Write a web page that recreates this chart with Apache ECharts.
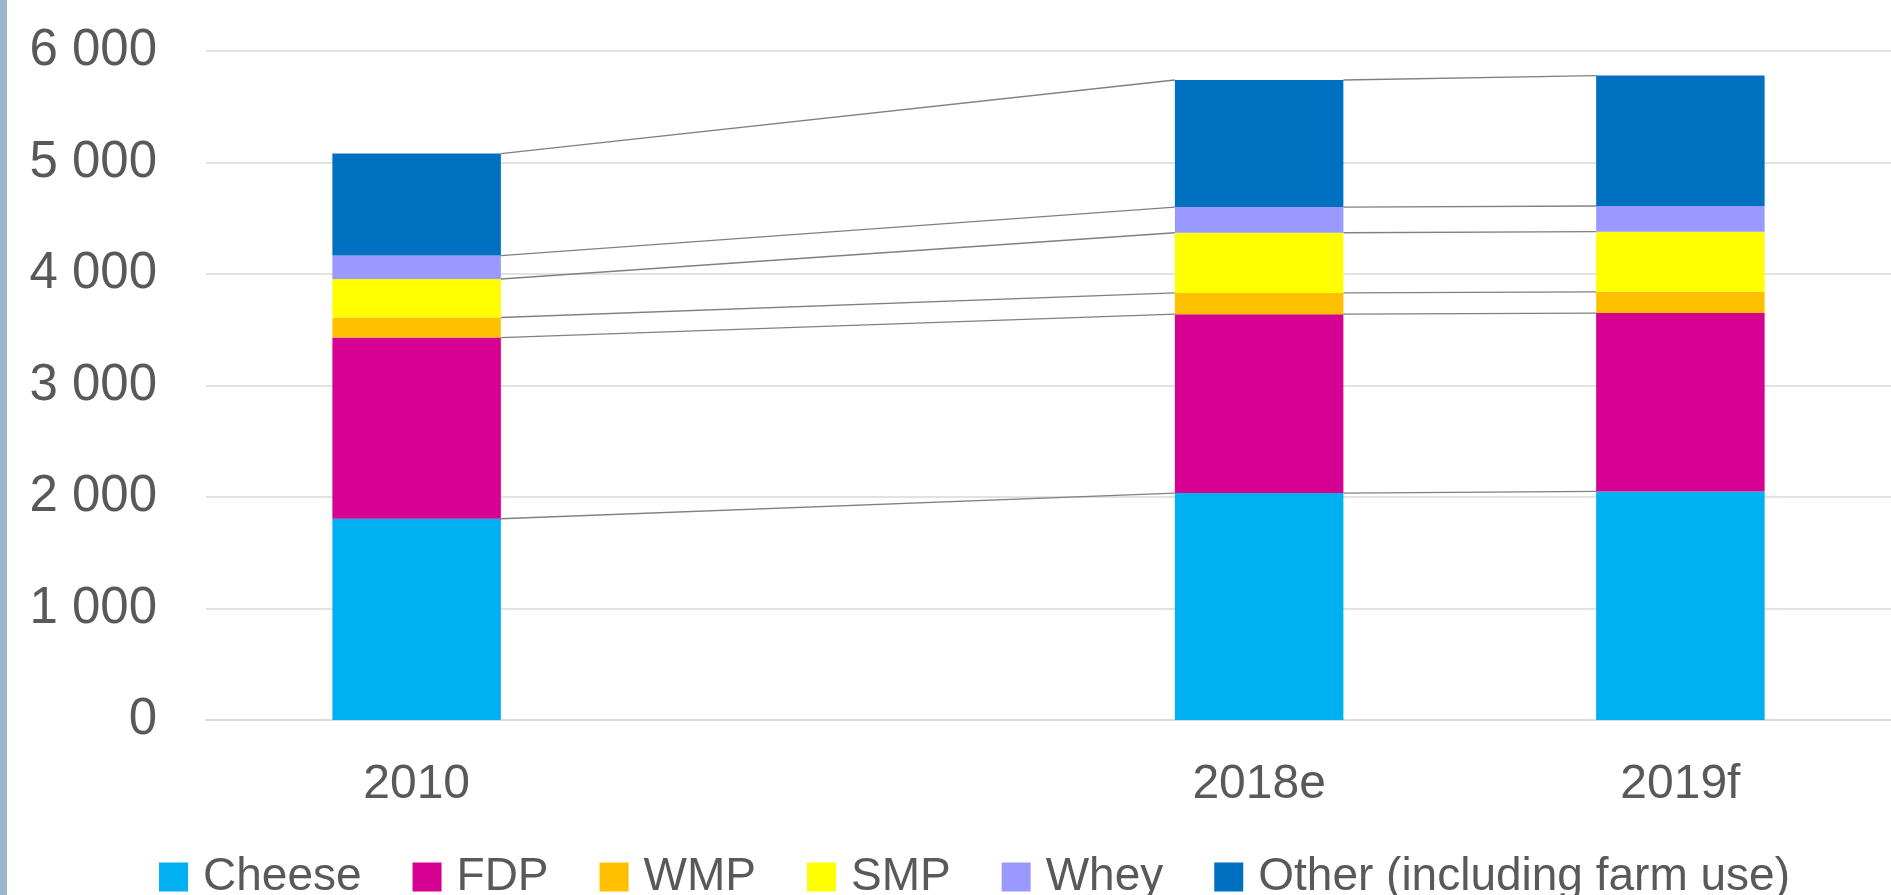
<!DOCTYPE html>
<html>
<head>
<meta charset="utf-8">
<script src="https://cdn.jsdelivr.net/npm/echarts@6/dist/echarts.min.js"></script>
<style>
html,body{margin:0;padding:0;background:#fff;}
#chart{width:1891px;height:895px;}
</style>
</head>
<body>
<div id="chart"></div>
<script>
// Axis categories (an empty slot keeps the gap between 2010 and 2018e)
const axisCategories = ['2010', '', '2018e', '2019f'];
const years = ['2010', '2018e', '2019f'];
const seriesNames = ['Cheese', 'FDP', 'WMP', 'SMP', 'Whey', 'Other (including farm use)'];
const seriesColors = ['#00B0F0', '#D60093', '#FFC000', '#FFFF00', '#9999FF', '#0070C0'];

// Values per year (2010, 2018e, 2019f)
const cheese = [1805, 2035, 2050];
const fdp    = [1625, 1605, 1600];
const wmp    = [180, 190, 190];
const smp    = [345, 540, 540];
const whey   = [210, 230, 230];
const other  = [915, 1140, 1170];

const yMin = 0, yMax = 6000, yInterval = 1000;

const allValues = [cheese, fdp, wmp, smp, whey, other];
const FONT = "'Liberation Sans', Arial, sans-serif";
const TEXT = '#595959';

function toAxis(arr) {
  return axisCategories.map(c => {
    const i = years.indexOf(c);
    return i < 0 ? null : arr[i];
  });
}

// series lines: connect top of each stacked segment between consecutive bars
const lineData = [];
const cum = years.map(() => 0);
const cumLevels = [];
allValues.forEach(arr => {
  arr.forEach((v, i) => { cum[i] += v; });
  cumLevels.push(cum.slice());
});
for (let k = 0; k < years.length - 1; k++) {
  const a = axisCategories.indexOf(years[k]);
  const b = axisCategories.indexOf(years[k + 1]);
  cumLevels.forEach(level => {
    lineData.push([a, level[k], b, level[k + 1]]);
  });
}

const series = seriesNames.map((name, s) => ({
  name: name,
  type: 'bar',
  stack: 'total',
  barWidth: '40%',
  itemStyle: { color: seriesColors[s] },
  data: toAxis(allValues[s]),
  z: 3
}));

series.push({
  name: 'seriesLines',
  type: 'custom',
  coordinateSystem: 'cartesian2d',
  encode: { x: [0, 2], y: [1, 3] },
  silent: true,
  z: 2,
  data: lineData,
  renderItem: function (params, api) {
    const half = api.size([1, 0])[0] * 0.2;
    const p1 = api.coord([api.value(0), api.value(1)]);
    const p2 = api.coord([api.value(2), api.value(3)]);
    return {
      type: 'line',
      shape: { x1: p1[0] + half, y1: p1[1], x2: p2[0] - half, y2: p2[1] },
      style: { stroke: '#808080', lineWidth: 1.3 }
    };
  }
});

const chart = echarts.init(document.getElementById('chart'), null, { renderer: 'canvas' });
chart.setOption({
  animation: false,
  backgroundColor: '#ffffff',
  graphic: [{
    type: 'rect',
    left: 0, top: 0,
    shape: { width: 7, height: 895 },
    style: { fill: '#9BB7CB' }
  }],
  grid: { left: 206, right: 0, top: 51, bottom: 175, containLabel: false },
  legend: {
    data: seriesNames,
    left: 154,
    top: 849,
    icon: 'rect',
    itemWidth: 29,
    itemHeight: 29,
    itemGap: 51,
    textStyle: { fontFamily: FONT, fontSize: 46, color: TEXT, lineHeight: 46, padding: [0, 0, 0, 10] }
  },
  xAxis: {
    type: 'category',
    data: axisCategories,
    axisLine: { show: true, lineStyle: { color: '#D9D9D9', width: 1.5 } },
    axisTick: { show: false },
    axisLabel: { fontFamily: FONT, fontSize: 48, lineHeight: 48, color: TEXT, margin: 41, interval: 0 }
  },
  yAxis: {
    type: 'value',
    min: yMin, max: yMax, interval: yInterval,
    axisLine: { show: false },
    axisTick: { show: false },
    splitLine: { lineStyle: { color: '#D9D9D9', width: 1.5 } },
    axisLabel: {
      fontFamily: FONT, fontSize: 51, color: TEXT, margin: 49,
      formatter: v => String(v).replace(/\B(?=(\d{3})+(?!\d))/g, ' ')
    }
  },
  series: series
});
</script>
</body>
</html>
